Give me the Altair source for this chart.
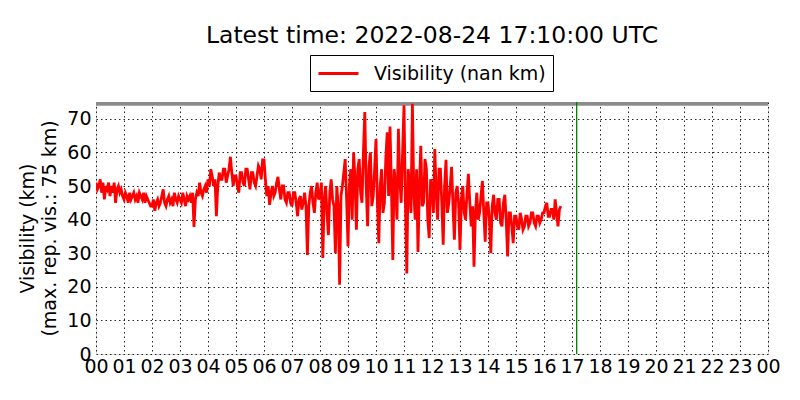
import altair as alt
import pandas as pd

FONT = "DejaVu Sans"

# Visibility (km), 3-minute steps, one list per hour (00 .. 16)
h00 = [51, 49, 50, 52, 48, 51, 46, 50, 49, 51, 47, 50, 48, 51, 45, 49, 50, 48, 49, 47]
h01 = [46, 48, 47, 45, 48, 46, 47, 48, 46, 47, 45, 48, 47, 46, 48, 45, 47, 46, 45, 44]
h02 = [44, 46, 42.6, 45, 46, 44, 45, 47, 49, 45, 44, 46, 47, 45, 46, 44, 48, 46, 45, 47]
h03 = [46, 45, 48, 46, 44, 47, 46, 47, 45, 48, 37.8, 46, 48, 47, 51, 48, 47, 49, 50, 48]
h04 = [52, 50, 55, 53, 50, 52, 41, 50, 54, 52, 52, 55, 55, 51, 53, 55, 58.7, 54, 50, 53]
h05 = [53, 50, 48, 54, 54, 51, 50, 55, 55, 52, 49, 54, 54, 51, 50, 53, 56, 55, 52, 57.8]
h06 = [57.8, 52, 47, 50, 44.4, 48, 50, 47, 48, 51, 52.7, 49, 46, 50, 50, 46, 45, 48, 48, 45]
h07 = [44, 48, 48, 45, 41, 46, 47, 43, 45, 48, 44, 29.5, 44, 48, 50, 45, 42, 48, 51, 46]
h08 = [47, 51, 28.6, 46, 50, 42, 35.4, 48, 52, 46, 44, 30, 50, 44, 20.6, 47, 50, 54, 58, 46]
h09 = [32, 50, 55, 40, 60, 52, 37, 55, 58, 48, 45, 60, 72, 50, 38, 56, 60, 44, 47, 55]
h10 = [64, 45, 33, 50, 55, 42, 45, 58, 66, 47, 67.7, 50, 28, 55, 50, 40, 67, 52, 45, 60]
h11 = [74, 45, 24, 55, 50, 42, 74.5, 48, 40, 55, 30.4, 50, 62, 44, 45, 58, 55, 40, 34.5, 52]
h12 = [50, 42, 61, 48, 40, 55, 55, 45, 32.5, 50, 57.8, 42, 45, 50, 55.7, 44, 34, 48, 50, 45]
h13 = [31, 46, 50, 42, 40, 48, 53.6, 45, 38, 44, 26, 42, 48, 40, 42, 47, 51.5, 42, 33.4, 45]
h14 = [45, 40, 30, 44, 47.4, 42, 40, 46, 46, 39, 38, 45, 47.4, 40, 29, 42, 42, 38, 33, 41]
h15 = [41, 38, 37, 42, 40, 37, 38, 41, 41, 38, 39, 42, 42, 39, 38, 41, 41, 39, 40, 42]
h16 = [42, 44, 45, 41, 41, 43, 43, 40, 46, 42, 38, 43, 44]

hours = [h00, h01, h02, h03, h04, h05, h06, h07, h08, h09, h10, h11, h12,
         h13, h14, h15, h16]

series_name = "Visibility (nan km)"
latest_time = 17 + 10 / 60          # 17:10 UTC
max_rep_vis = 75
x_ticks = list(range(0, 25))
y_ticks = [0, 10, 20, 30, 40, 50, 60, 70]

times, vis = [], []
for h, seg in enumerate(hours):
    for i, v in enumerate(seg):
        times.append(round(h + i / 20, 3))
        vis.append(v)

df = pd.DataFrame({"t": times, "v": vis, "series": series_name})
band_df = pd.DataFrame({"x": [0], "x2": [24], "y": [max_rep_vis - 1.1], "y2": [max_rep_vis]})
now_df = pd.DataFrame({"t": [latest_time]})

x_scale = alt.Scale(domain=[0, 24], nice=False, zero=False)
y_scale = alt.Scale(domain=[0, max_rep_vis], nice=False)

x_axis = alt.Axis(
    values=x_ticks,
    labelExpr="(datum.value % 24 < 10 ? '0' : '') + (datum.value % 24)",
    title=None, labelFontSize=19, labelFont=FONT, labelColor="black",
    labelPadding=3, ticks=False, domain=False,
    grid=True, gridColor="black", gridDash=[1.5, 3], gridOpacity=0.85,
    labelFlush=False, labelOverlap=False,
)
y_axis = alt.Axis(
    values=y_ticks, title=["Visibility (km)", "(max. rep. vis.: 75 km)"],
    titleFontSize=19, titleFont=FONT, titleFontWeight="normal", titleColor="black",
    titlePadding=7, titleLineHeight=22,
    labelFontSize=19, labelFont=FONT, labelColor="black", labelPadding=5,
    ticks=False, domain=False, labelOverlap=False,
    grid=True, gridColor="black", gridDash=[1.5, 3], gridOpacity=0.85,
)

band = alt.Chart(band_df).mark_rect(color="#8c8c8c").encode(
    x=alt.X("x:Q", scale=x_scale, axis=x_axis),
    x2="x2:Q",
    y=alt.Y("y:Q", scale=y_scale, axis=y_axis),
    y2="y2:Q",
)

line = alt.Chart(df).mark_line(strokeWidth=2.8, clip=True).encode(
    x=alt.X("t:Q", scale=x_scale, axis=x_axis),
    y=alt.Y("v:Q", scale=y_scale, axis=y_axis),
    color=alt.Color(
        "series:N",
        scale=alt.Scale(domain=[series_name], range=["#ff0000"]),
        legend=alt.Legend(
            title=None, orient="none", legendX=214, legendY=-47,
            symbolType="M-1,0H3", symbolSize=400, symbolStrokeWidth=3,
            labelFontSize=19, labelFont=FONT, labelColor="black", labelLimit=400,
            labelOffset=34, padding=7, strokeColor="black",
            fillColor="white", cornerRadius=0,
        ),
    ),
)

now_rule = alt.Chart(now_df).mark_rule(color="#008000", strokeWidth=1.3).encode(
    x=alt.X("t:Q", scale=x_scale, axis=x_axis),
)

chart = alt.layer(band, line, now_rule).properties(
    width=672, height=252,
    title=alt.TitleParams(
        "Latest time: 2022-08-24 17:10:00 UTC", fontSize=23.5, font=FONT,
        fontWeight="normal", color="black", anchor="middle", offset=7,
    ),
    autosize=alt.AutoSizeParams(type="none"),
    padding={"left": 88, "top": 94, "right": 24, "bottom": 38},
).configure_view(
    stroke="black", strokeWidth=1.2
).configure(background="white")

chart.save("out.html", embed_options={"renderer": "svg", "actions": False})
